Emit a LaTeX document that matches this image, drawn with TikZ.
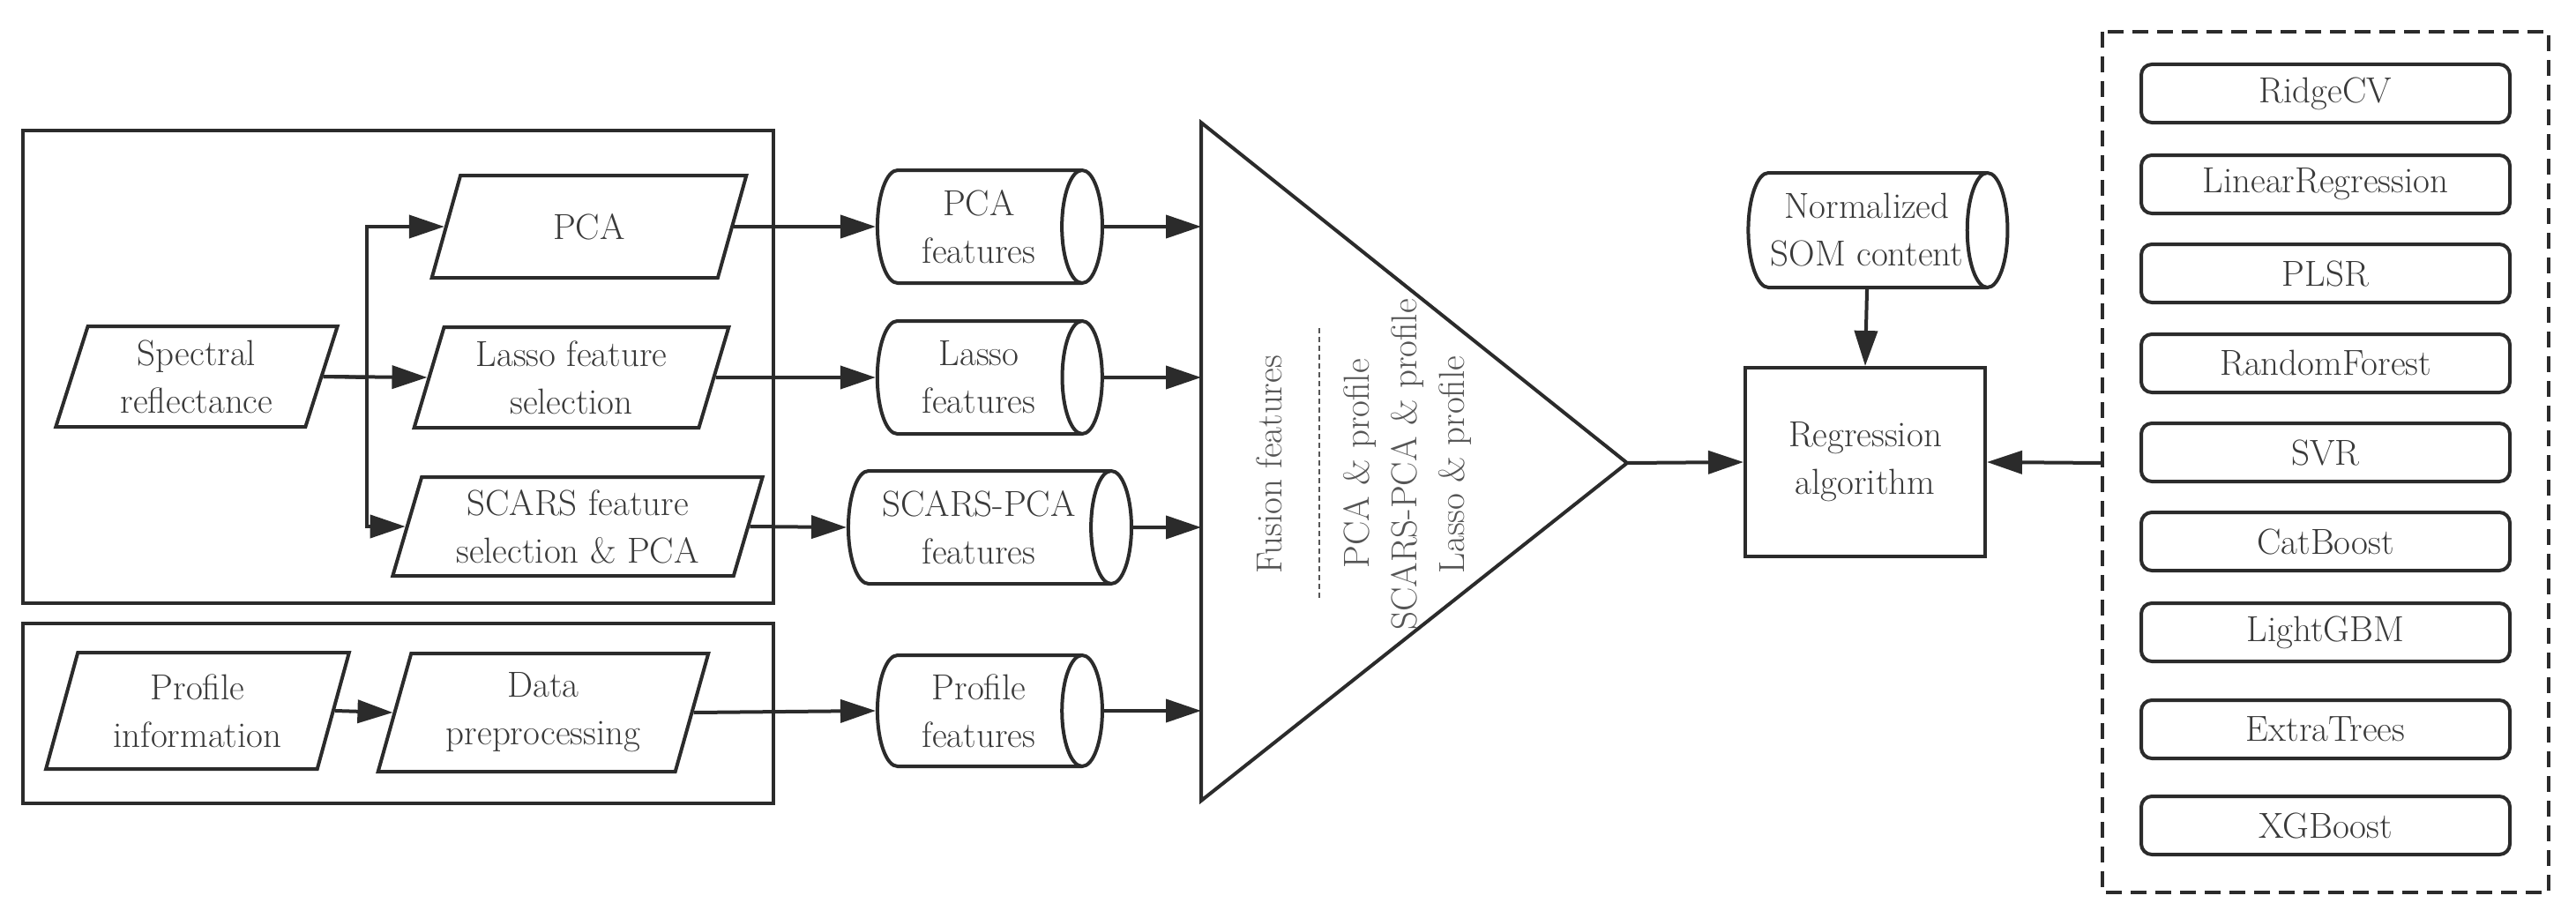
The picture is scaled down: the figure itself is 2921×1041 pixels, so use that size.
\documentclass[tikz,border=0pt]{standalone}
\usetikzlibrary{shapes.geometric,arrows.meta}
\definecolor{ln}{HTML}{2B2B2B}
\definecolor{tx}{HTML}{3A3A3A}
\definecolor{tg}{HTML}{555555}
\begin{document}
\begin{tikzpicture}[x=1pt,y=-1pt,
  every node/.style={font=\fontsize{41}{54}\selectfont,text=tx,align=center},
  box/.style={draw=ln,line width=4pt},
  para/.style={draw=ln,line width=4pt,trapezium,trapezium left angle=73,trapezium right angle=107,trapezium stretches=true,inner sep=0pt},
  cyl/.style={draw=ln,line width=4pt,cylinder,shape aspect=0.55,inner sep=0pt},
  item/.style={draw=ln,line width=4pt,rounded corners=12pt,minimum width=418pt,minimum height=66pt,inner sep=0pt},
  arr/.style={draw=ln,line width=4pt,-{Triangle[length=40pt,width=26pt]}}]
\useasboundingbox (0,0) rectangle (2921,1041);
% group boxes
\draw[box] (26,148) rectangle (877,684);
\draw[box] (26,707) rectangle (877,911);
% parallelograms
\node[para,minimum width=320pt,minimum height=114pt] (spec) at (223,427) {Spectral\\reflectance};
\node[para,minimum width=358pt,minimum height=116pt] (pca) at (668,257) {PCA};
\node[para,minimum width=357pt,minimum height=114pt] (lasso) at (648,428) {Lasso feature\\selection};
\node[para,minimum width=421pt,minimum height=112pt] (scars) at (655,597) {SCARS feature\\selection \& PCA};
\node[para,minimum width=344pt,minimum height=132pt] (prof) at (224,806) {Profile\\information};
\node[para,minimum width=376pt,minimum height=134pt] (prep) at (616,808) {Data\\preprocessing};
% cylinders
\node[cyl,minimum height=255pt,minimum width=128pt] (cpca) at (1110,257) {PCA\\features};
\node[cyl,minimum height=255pt,minimum width=128pt] (classo) at (1110,428) {Lasso\\features};
\node[cyl,minimum height=321pt,minimum width=128pt] (cscars) at (1110,598) {SCARS-PCA\\features};
\node[cyl,minimum height=255pt,minimum width=126pt] (cprof) at (1110,806) {Profile\\features};
\node[cyl,minimum height=294pt,minimum width=130pt] (norm) at (2117,261) {Normalized\\SOM content};
% triangle
\coordinate (tA) at (1362,139);
\coordinate (tB) at (1362,908);
\coordinate (tip) at (1845,525);
\draw[ln,line width=4pt,line join=miter] (tA) -- (tip) -- (tB) -- cycle;
\coordinate (i1) at (1362,257);
\coordinate (i2) at (1362,428);
\coordinate (i3) at (1362,598);
\coordinate (i4) at (1362,806);
\node[text=tg,rotate=90] (fus) at (1439,527) {Fusion features};
\draw[tg,line width=2pt,dash pattern=on 6pt off 4pt] (1496,372) -- (1496,679);
\node[text=tg,rotate=90] (f1) at (1542,526) {PCA \& profile};
\node[text=tg,rotate=90] (f2) at (1596,527) {SCARS-PCA \& profile};
\node[text=tg,rotate=90] (f3) at (1650,527) {Lasso \& profile};
% regression
\node[box,minimum width=272pt,minimum height=214pt] (reg) at (2115,524) {Regression\\algorithm};
% model list
\draw[draw=ln,line width=4pt,dash pattern=on 18pt off 10pt] (2384,36) rectangle (2890,1012);
\coordinate (lw) at (2384,525);
\foreach \n/\t/\y in {m1/RidgeCV/106,m2/LinearRegression/209,m3/PLSR/310,m4/RandomForest/412,m5/SVR/513,m6/CatBoost/614,m7/LightGBM/717,m8/ExtraTrees/827,m9/XGBoost/936}
  \node[item] (\n) at (2637,\y) {\t};
% connectors
\coordinate (br) at (416,428);
\draw[ln,line width=4pt] (spec.east) -- (br);
\draw[arr] (br) |- (pca.west);
\draw[arr] (spec.east) -- (lasso.west);
\draw[arr] (br) |- (scars.west);
\draw[arr] (prof.east) -- (prep.west);
\draw[arr] (pca.east) -- (cpca.west);
\draw[arr] (lasso.east) -- (classo.west);
\draw[arr] (scars.east) -- (cscars.west);
\draw[arr] (prep.east) -- (cprof.west);
\draw[arr] (cpca.east) -- (i1);
\draw[arr] (classo.east) -- (i2);
\draw[arr] (cscars.east) -- (i3);
\draw[arr] (cprof.east) -- (i4);
\draw[arr] (tip) -- (reg.west);
\draw[arr] (norm.south) -- (reg.north);
\draw[arr] (lw) -- (reg.east);
\end{tikzpicture}
\end{document}
